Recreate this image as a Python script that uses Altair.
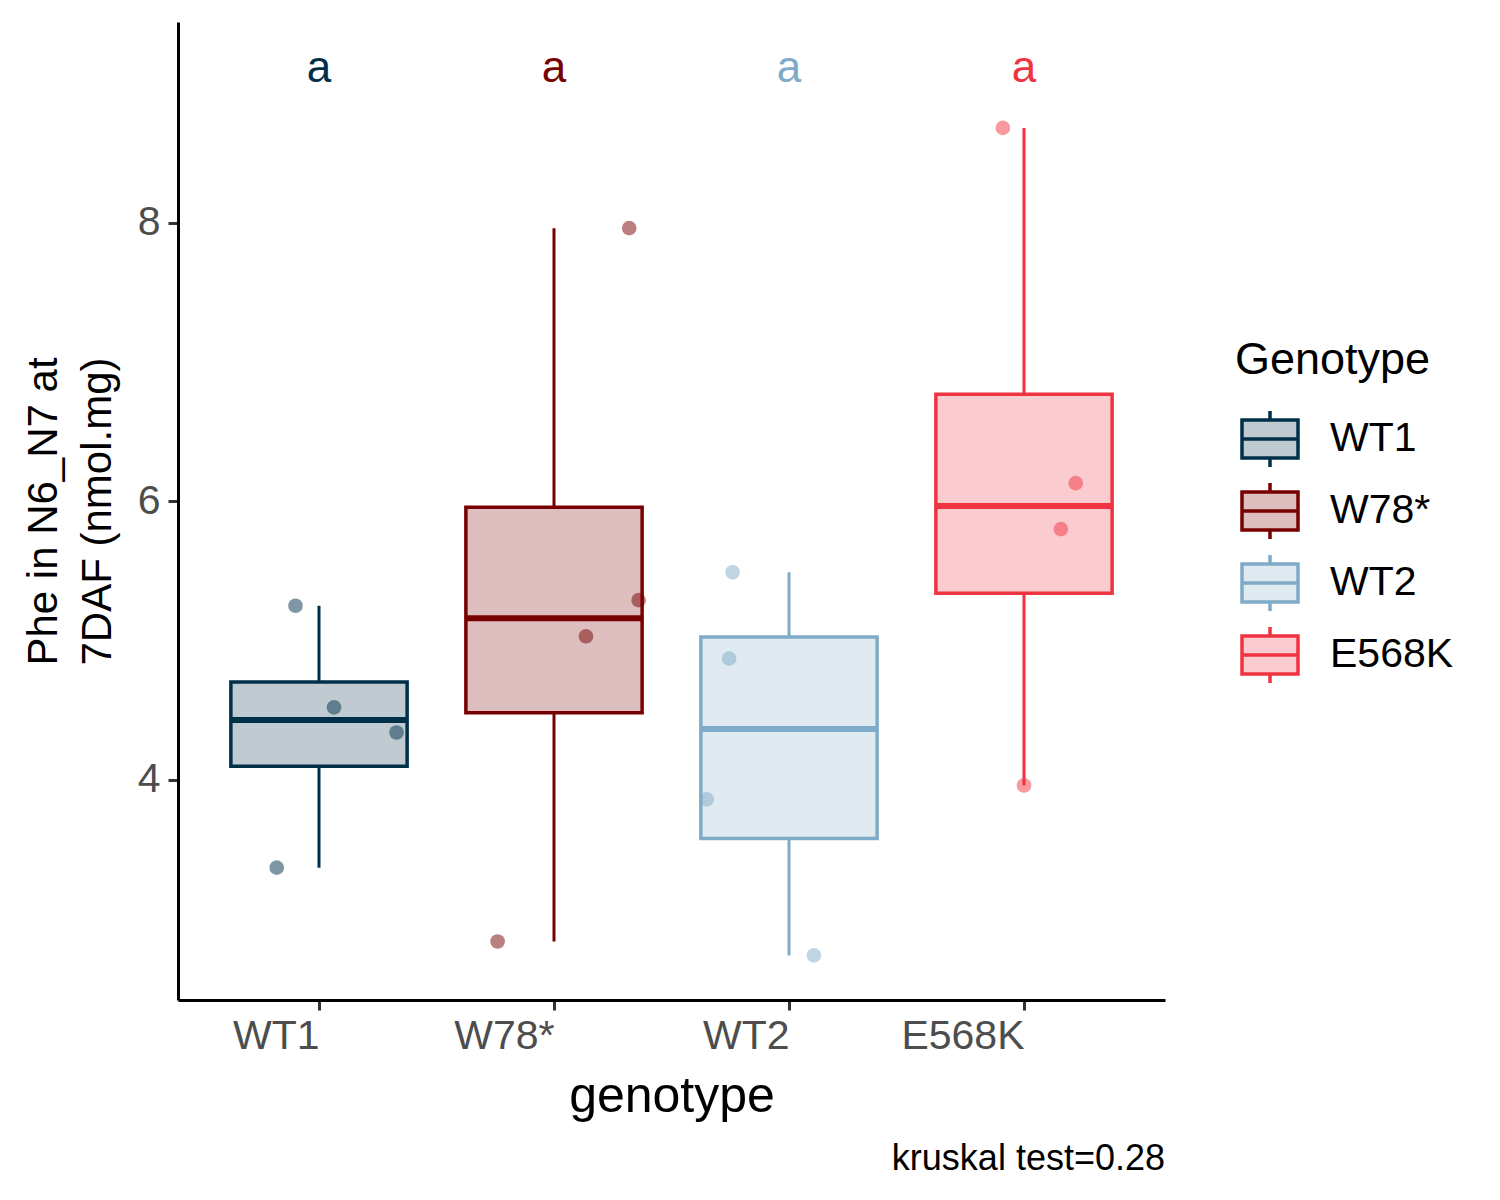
import json
import altair as alt
import pandas as pd

# ---------------- data ----------------
genotypes = ["WT1", "W78*", "WT2", "E568K"]
line_colors = ["#003049", "#780000", "#7FABC8", "#EF3340"]
fill_colors = ["#BFCBD1", "#DDBFBF", "#DFEAF1", "#FBCCCF"]

wt1_values = [5.25, 4.52, 4.34, 3.37]
w78_values = [7.96, 5.29, 5.03, 2.84]
wt2_values = [5.49, 4.87, 3.86, 2.74]
e568k_values = [8.68, 6.13, 5.80, 3.96]

wt1_jitter = [-0.10, 0.064, 0.33, -0.18]
w78_jitter = [0.32, 0.36, 0.136, -0.24]
wt2_jitter = [-0.24, -0.255, -0.35, 0.106]
e568k_jitter = [-0.09, 0.22, 0.157, 0.0]

letters = ["a", "a", "a", "a"]
letter_y = 9.1
caption = "kruskal test=0.28"
y_title = ["Phe in N6_N7 at", "7DAF (nmol.mg)"]
y_ticks = [4, 6, 8]

FONT = "Liberation Sans"
BOX_HALF = 0.375

# ---------------- tables ----------------
all_values = [wt1_values, w78_values, wt2_values, e568k_values]
all_jitter = [wt1_jitter, w78_jitter, wt2_jitter, e568k_jitter]

rows = []
for i, g in enumerate(genotypes):
    for v, j in zip(all_values[i], all_jitter[i]):
        rows.append({"genotype": g, "value": v, "pos": i + 1, "xj": i + 1 + j,
                     "col": line_colors[i]})
points = pd.DataFrame(rows)

stats = []
for i, g in enumerate(genotypes):
    s = pd.Series(all_values[i])
    q1, med, q3 = s.quantile(0.25), s.quantile(0.5), s.quantile(0.75)
    iqr = q3 - q1
    lo = s[s >= q1 - 1.5 * iqr].min()
    hi = s[s <= q3 + 1.5 * iqr].max()
    stats.append({"genotype": g, "pos": i + 1, "x1": i + 1 - BOX_HALF,
                  "x2": i + 1 + BOX_HALF, "q1": q1, "med": med, "q3": q3,
                  "lo": lo, "hi": hi, "letter": letters[i], "ly": letter_y,
                  "col": line_colors[i]})
stats = pd.DataFrame(stats)

line_scale = alt.Scale(domain=genotypes, range=line_colors)
fill_scale = alt.Scale(domain=genotypes, range=fill_colors)

symbol_path = "M-1,-0.68H1V0.68H-1Z M-1,0H1 M0,-0.68V-1 M0,0.68V1"
legend = alt.Legend(
    title="Genotype", orient="none", legendX=1057, legendY=316,
    symbolType=symbol_path, symbolSize=3136, symbolStrokeWidth=3.5,
    symbolOffset=5, titleLimit=400, labelLimit=400,
    labelFontSize=41, titleFontSize=45, titleFontWeight="normal",
    labelFont=FONT, titleFont=FONT, labelColor="black", titleColor="black",
    labelOffset=30, rowPadding=2, titlePadding=26,
)

x_axis = alt.Axis(
    values=[1, 2, 3, 4],
    labelExpr=json.dumps(genotypes) + "[datum.value - 1]",
    title="genotype", labelAlign="right", grid=False,
    labelFontSize=41, titleFontSize=50, labelFont=FONT, titleFont=FONT,
    labelColor="#4D4D4D", titleColor="black", titleFontWeight="normal",
    tickSize=10, tickWidth=3, tickColor="#333333",
    domainColor="black", domainWidth=3, labelPadding=6, titlePadding=15,
)
y_axis = alt.Axis(
    values=y_ticks, format=".0f", title=y_title, grid=False,
    labelFontSize=41, titleFontSize=42, labelFont=FONT, titleFont=FONT,
    labelColor="#4D4D4D", titleColor="black", titleFontWeight="normal",
    titleLineHeight=54, tickSize=10, tickWidth=3, tickColor="#333333",
    domainColor="black", domainWidth=3, labelPadding=8, titlePadding=18,
)

xs = alt.Scale(domain=[0.4, 4.6], nice=False, zero=False)
ys = alt.Scale(domain=[2.42, 9.44], nice=False, zero=False)

base = alt.Chart(stats)

whisker = base.mark_rule(strokeWidth=3).encode(
    x=alt.X("pos:Q", scale=xs, axis=x_axis),
    y=alt.Y("lo:Q", scale=ys, axis=y_axis),
    y2="hi:Q",
    stroke=alt.Stroke("genotype:N", scale=line_scale, legend=legend),
)

box = base.mark_rect(strokeWidth=3.5).encode(
    x=alt.X("x1:Q", scale=xs),
    x2="x2:Q",
    y=alt.Y("q1:Q", scale=ys),
    y2="q3:Q",
    fill=alt.Fill("genotype:N", scale=fill_scale, legend=legend),
    stroke=alt.Stroke("genotype:N", scale=line_scale, legend=legend),
)

median = base.mark_rule(strokeWidth=6).encode(
    x=alt.X("x1:Q", scale=xs),
    x2="x2:Q",
    y=alt.Y("med:Q", scale=ys),
    stroke=alt.Stroke("genotype:N", scale=line_scale, legend=legend),
)

dots = alt.Chart(points).mark_circle(size=215, opacity=0.5).encode(
    x=alt.X("xj:Q", scale=xs),
    y=alt.Y("value:Q", scale=ys),
    color=alt.Color("col:N", scale=None),
)

text = base.mark_text(fontSize=44, font=FONT, baseline="middle", align="center").encode(
    x=alt.X("pos:Q", scale=xs),
    y=alt.Y("ly:Q", scale=ys),
    text="letter:N",
    color=alt.Color("col:N", scale=None),
)

chart = alt.layer(whisker, box, median, dots, text).properties(
    width=987, height=978,
    autosize=alt.AutoSizeParams(type="none"),
    padding={"left": 170, "top": 14, "right": 320, "bottom": 190},
    title=alt.TitleParams(caption, orient="bottom", anchor="end", frame="group",
                          fontSize=36, fontWeight="normal", font=FONT,
                          color="black", offset=21),
).configure_view(stroke=None)

chart.save("out.html", embed_options={"renderer": "svg", "actions": False})
